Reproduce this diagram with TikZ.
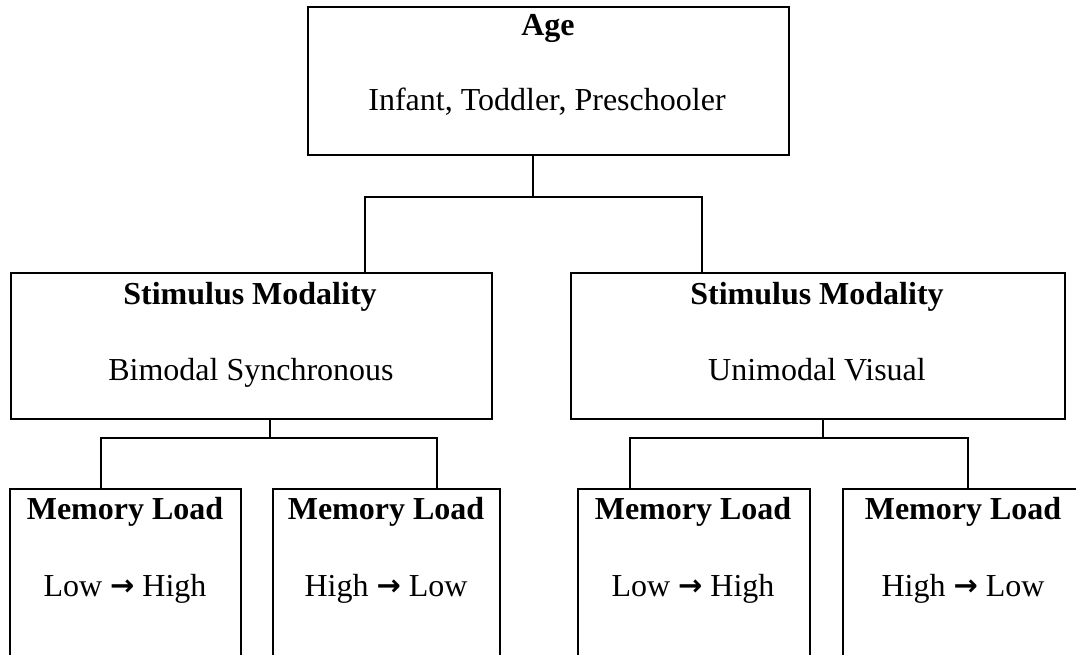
\documentclass[tikz,border=0pt]{standalone}
\usepackage{fontspec}
\setmainfont{Liberation Serif}
\newfontfamily\arrowfont{DejaVu Sans}
\begin{document}
\begin{tikzpicture}[x=1pt,y=-1pt,
  box/.style={draw=black,line width=2.4pt,rectangle,inner sep=0pt,anchor=north west},
  conn/.style={draw=black,line width=1.4pt},
  txt/.style={anchor=base,inner sep=0pt,font=\fontsize{32}{38}\selectfont},
  btxt/.style={txt,font=\fontsize{32}{38}\selectfont\bfseries}]
\useasboundingbox (0,0) rectangle (1076,654);
\clip (0,0) rectangle (1076,654);
\fill[white] (0,0) rectangle (1076,654);
\newcommand{\arr}{\raisebox{0.5pt}{\arrowfont\bfseries\fontsize{29}{30}\selectfont →}}
% boxes
\node[box,minimum width=481pt,minimum height=148pt] (top) at (307,6) {};
\node[box,minimum width=481pt,minimum height=146pt] (midL) at (10,272) {};
\node[box,minimum width=494pt,minimum height=146pt] (midR) at (570,272) {};
\node[box,minimum width=231pt,minimum height=220pt] (b1) at (9,488) {};
\node[box,minimum width=227pt,minimum height=220pt] (b2) at (272,488) {};
\node[box,minimum width=232pt,minimum height=220pt] (b3) at (577,488) {};
\node[box,minimum width=242pt,minimum height=220pt] (b4) at (842,488) {};
% texts
\node[btxt] (tA) at (548,35) {Age};
\node[txt] (tB) at (547,110) {Infant, Toddler, Preschooler};
\node[btxt] (lA) at (250,304) {Stimulus Modality};
\node[txt] (lB) at (251,380) {Bimodal Synchronous};
\node[btxt] (rA) at (817,304) {Stimulus Modality};
\node[txt] (rB) at (817,380) {Unimodal Visual};
\node[btxt] (m1) at (125,519) {Memory Load};
\node[txt] (n1) at (125,596) {Low \arr\ High};
\node[btxt] (m2) at (386,519) {Memory Load};
\node[txt] (n2) at (386,596) {High \arr\ Low};
\node[btxt] (m3) at (693,519) {Memory Load};
\node[txt] (n3) at (693,596) {Low \arr\ High};
\node[btxt] (m4) at (963,519) {Memory Load};
\node[txt] (n4) at (963,596) {High \arr\ Low};
% connector coordinates
\coordinate (s1) at (533,197);
\coordinate (k1) at (365,197);
\coordinate (k2) at (702,197);
\coordinate (s2) at (270,438);
\coordinate (p1) at (101,438);
\coordinate (p2) at (437,438);
\coordinate (s3) at (823,438);
\coordinate (q1) at (630,438);
\coordinate (q2) at (968,438);
% connectors
\draw[conn] (s1 |- top.south) -- (s1);
\draw[conn] (k1 |- midL.north) -- (k1) -- (k2) -- (k2 |- midR.north);
\draw[conn] (s2 |- midL.south) -- (s2);
\draw[conn] (p1 |- b1.north) -- (p1) -- (p2) -- (p2 |- b2.north);
\draw[conn] (s3 |- midR.south) -- (s3);
\draw[conn] (q1 |- b3.north) -- (q1) -- (q2) -- (q2 |- b4.north);
\end{tikzpicture}
\end{document}
